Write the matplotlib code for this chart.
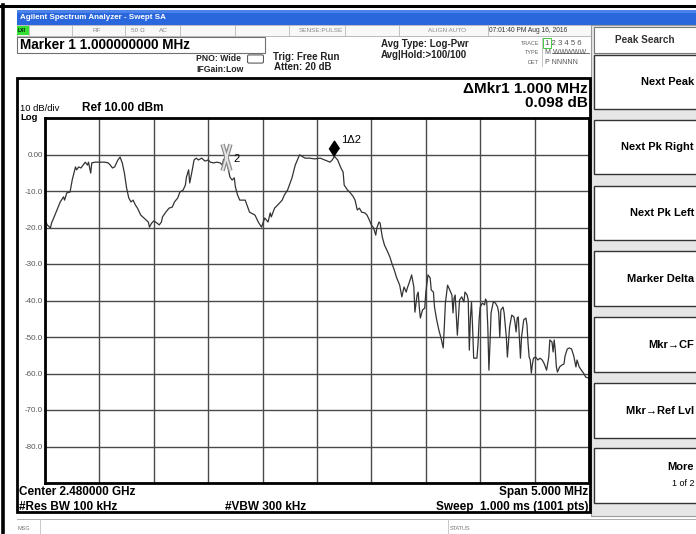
import numpy as np
import matplotlib.pyplot as plt
from matplotlib.patches import Rectangle, FancyBboxPatch
from matplotlib.lines import Line2D
from matplotlib.path import Path

plt.rcParams['font.family'] = ['Liberation Sans', 'DejaVu Sans']

# sweep settings
center_ghz = 2.48
span_mhz = 5.0
ref_dbm = 10.0
db_per_div = 10

# trace 1: offset from start frequency (MHz) and level (dBm)
freq_off = [0.00, 0.02, 0.05, 0.06, 0.08, 0.11, 0.14, 0.17, 0.18, 0.20, 0.23, 0.25, 0.28, 0.29, 0.31, 0.33,
            0.35, 0.37, 0.39, 0.40, 0.42, 0.43, 0.46, 0.51, 0.55, 0.58, 0.60, 0.62, 0.64, 0.67, 0.69, 0.71,
            0.73, 0.75, 0.77, 0.79, 0.81, 0.83, 0.85, 0.88, 0.91, 0.95, 0.96, 0.98, 1.00, 1.03, 1.05, 1.07,
            1.08, 1.11, 1.14, 1.17, 1.19, 1.22, 1.24, 1.27, 1.29, 1.30, 1.32, 1.33, 1.35, 1.37, 1.39, 1.41,
            1.44, 1.47, 1.50, 1.52, 1.55, 1.58, 1.61, 1.63, 1.64, 1.66, 1.68, 1.70, 1.72, 1.74, 1.75, 1.77,
            1.79, 1.84, 1.88, 1.93, 1.96, 1.99, 2.02, 2.05, 2.07, 2.08, 2.11, 2.14, 2.18, 2.20, 2.23, 2.27,
            2.30, 2.34, 2.39, 2.43, 2.48, 2.53, 2.57, 2.62, 2.64, 2.66, 2.69, 2.72, 2.74, 2.75, 2.78, 2.80,
            2.83, 2.85, 2.86, 2.87, 2.89, 2.91, 2.94, 2.96, 2.98, 3.00, 3.02, 3.04, 3.05, 3.07, 3.08, 3.10,
            3.12, 3.15, 3.17, 3.19, 3.21, 3.23, 3.26, 3.28, 3.30, 3.32, 3.33, 3.35, 3.37, 3.39, 3.40, 3.42,
            3.43, 3.44, 3.45, 3.47, 3.49, 3.50, 3.52, 3.54, 3.55, 3.57, 3.58, 3.60, 3.62, 3.64, 3.66, 3.67,
            3.68, 3.70, 3.72, 3.74, 3.75, 3.76, 3.77, 3.79, 3.81, 3.83, 3.85, 3.86, 3.88, 3.89, 3.90, 3.91,
            3.92, 3.93, 3.94, 3.97, 3.98, 3.99, 4.00, 4.02, 4.04, 4.05, 4.06, 4.07, 4.08, 4.09, 4.10, 4.12,
            4.14, 4.16, 4.17, 4.18, 4.19, 4.21, 4.22, 4.24, 4.25, 4.27, 4.29, 4.31, 4.32, 4.33, 4.34, 4.35,
            4.36, 4.37, 4.38, 4.40, 4.42, 4.43, 4.44, 4.45, 4.46, 4.47, 4.48, 4.49, 4.51, 4.53, 4.55, 4.57,
            4.59, 4.61, 4.63, 4.64, 4.66, 4.67, 4.68, 4.69, 4.70, 4.71, 4.73, 4.75, 4.77, 4.78, 4.80, 4.82,
            4.84, 4.86, 4.88, 4.89, 4.91, 4.93, 4.95, 4.97, 5.00]
level = [-17.9, -19.3, -20.1, -18.8, -17.4, -15.2, -13.0, -11.6, -12.5, -10.5, -10.3, -7.0, -3.4, -4.2, -3.4, -3.7,
         -2.9, -2.1, -2.9, -2.1, -5.1, -2.3, -2.1, -2.1, -2.1, -2.3, -2.9, -3.7, -3.4, -1.5, -0.7, -2.3,
         -5.1, -9.2, -11.9, -13.0, -12.5, -13.8, -14.7, -16.6, -17.4, -18.5, -19.9, -18.8, -18.2, -18.8, -19.3, -18.5,
         -17.1, -15.8, -14.7, -14.4, -13.0, -11.9, -10.3, -9.7, -8.4, -6.2, -4.2, -7.8, -4.8, -1.5, -1.0, -1.5,
         -1.0, -1.8, -1.5, -2.1, -2.3, -2.1, -2.3, -2.9, -1.5, -0.6, -3.4, -6.2, -7.0, -6.4, -8.9, -11.1,
         -12.5, -12.5, -15.8, -16.6, -18.5, -19.9, -17.4, -18.5, -16.0, -17.1, -14.7, -13.8, -12.5, -11.1, -9.7, -6.4,
         -2.9, -0.1, -1.0, -1.0, -1.2, -1.0, -1.5, -2.1, -1.5, -0.5, -1.5, -3.7, -4.8, -8.4, -9.7, -10.3,
         -11.4, -12.5, -13.8, -15.2, -14.7, -15.8, -16.0, -16.6, -17.9, -19.3, -20.1, -22.1, -20.1, -18.5, -18.8, -22.6,
         -24.8, -26.7, -28.1, -30.0, -31.6, -33.6, -35.8, -39.0, -36.3, -37.7, -36.6, -34.9, -33.0, -36.3, -43.2, -38.5,
         -37.7, -41.8, -44.8, -42.6, -42.1, -37.9, -33.0, -33.8, -37.1, -37.7, -41.8, -45.3, -48.1, -50.3, -53.0, -47.3,
         -40.7, -35.8, -37.1, -38.5, -43.4, -39.3, -38.5, -49.5, -39.9, -39.0, -40.4, -37.7, -38.5, -39.9, -53.6, -44.8,
         -40.4, -47.3, -55.8, -55.8, -51.8, -45.3, -41.8, -40.7, -41.2, -39.6, -40.4, -47.3, -59.1, -51.8, -43.4, -40.4,
         -40.7, -41.8, -43.4, -50.0, -42.6, -41.8, -43.4, -50.0, -55.5, -47.3, -44.0, -44.5, -46.2, -48.6, -44.8, -44.5,
         -50.0, -55.8, -50.0, -45.3, -44.8, -46.7, -51.8, -55.5, -56.3, -59.9, -57.4, -55.8, -55.5, -56.3, -55.8, -56.3,
         -57.4, -59.1, -55.5, -50.8, -51.4, -54.1, -50.8, -53.6, -58.2, -59.6, -58.2, -57.7, -57.4, -55.2, -53.3, -53.0,
         -53.3, -55.2, -58.2, -56.3, -58.2, -59.1, -59.9, -61.0, -61.3]

# markers (offset from start, MHz)
mkr2_off = 1.66
mkr1_off = 2.66

y_tick_vals = [0, -10, -20, -30, -40, -50, -60, -70, -80]
softkeys = ['Next Peak', 'Next Pk Right', 'Next Pk Left', 'Marker Delta', 'Mkr\u2192CF', 'Mkr\u2192Ref Lvl']
key_rows = [(55, 109), (120, 174), (186, 240), (251, 306), (317, 372), (383, 438), (448, 503)]

W, H = 696, 534
fig = plt.figure(figsize=(W / 100, H / 100), dpi=100)
fig.patch.set_facecolor('white')


def fx(x):
    return x / W


def fy(y):
    return 1 - y / H


def rect(x0, y0, x1, y1, fc='none', ec='black', lw=1.0, z=1):
    fig.add_artist(Rectangle((fx(x0), fy(y1)), (x1 - x0) / W, (y1 - y0) / H,
                             transform=fig.transFigure, fc=fc, ec=ec, lw=lw, zorder=z))


def hline(x0, x1, y, color='black', lw=1.0, z=1.5):
    fig.add_artist(Line2D([fx(x0), fx(x1)], [fy(y), fy(y)], transform=fig.transFigure,
                          color=color, lw=lw, zorder=z))


def vline(x, y0, y1, color='black', lw=1.0, z=1.5):
    fig.add_artist(Line2D([fx(x), fx(x)], [fy(y0), fy(y1)], transform=fig.transFigure,
                          color=color, lw=lw, zorder=z))


def txt(x, y, s, size=7, bold=False, color='black', ha='left'):
    fig.text(fx(x), fy(y), s, fontsize=size, fontweight='bold' if bold else 'normal',
             color=color, ha=ha, va='center', zorder=4)


# outer frame
hline(0, W, 5.5, lw=2.2)
vline(3, 5, H, lw=2.6)

# title bar
rect(17, 10, W, 25, fc='#2a66dc', ec='none')
rect(17, 10, W, 13, fc='#4a82ea', ec='none')
txt(20, 17.5, 'Agilent Spectrum Analyzer - Swept SA', 5.8, True, 'white')

# status row
rect(17, 25, 591, 36, fc='#f8f8f8', ec='#b0b0b0', lw=0.6)
for xd in [29, 72, 125, 180, 235, 289, 345, 399, 488]:
    vline(xd, 25, 36, color='#b8b8b8', lw=0.6)
rect(17, 26, 29, 35, fc='#33e033', ec='none', z=1.6)
txt(18, 30.5, 'LXI', 3.6, True)
txt(97, 30.5, 'RF', 4.6, color='#8a8a8a', ha='center')
txt(131, 30.5, '50 \u03a9', 4.6, color='#8a8a8a')
txt(163, 30.5, 'AC', 4.6, color='#8a8a8a', ha='center')
txt(343, 30.5, 'SENSE:PULSE', 4.6, color='#8a8a8a', ha='right')
txt(447, 30.5, 'ALIGN AUTO', 4.6, color='#8a8a8a', ha='center')
txt(489, 30.5, '07:01:40 PM Aug 16, 2016', 4.8, color='#333333')

# header
rect(17, 37, 265, 53, ec='#707070', lw=0.8)
txt(20, 45, 'Marker 1 1.000000000 MHz', 9.8, True)
txt(196, 58.5, 'PNO: Wide', 6.2, True, '#222222')
txt(196, 69.5, 'IFGain:Low', 6.2, True, '#222222')
fig.add_artist(FancyBboxPatch((fx(249), fy(62)), 13 / W, 6 / H, boxstyle='round,pad=0.002',
                              transform=fig.transFigure, fc='none', ec='#444444', lw=0.7))
txt(273, 56.5, 'Trig: Free Run', 7, True, '#222222')
txt(274, 67.5, 'Atten: 20 dB', 7, True, '#222222')
txt(381, 44, 'Avg Type: Log-Pwr', 7, True, '#222222')
txt(381, 55, 'Avg|Hold:>100/100', 7, True, '#222222')

vline(541.5, 38, 66, color='#bbbbbb', lw=0.6)
txt(539, 43.5, 'TRACE', 4.0, color='#666666', ha='right')
txt(539, 53, 'TYPE', 4.0, color='#666666', ha='right')
txt(539, 62.5, 'DET', 4.0, color='#666666', ha='right')
txt(545, 43.5, '1 2 3 4 5 6', 5.6, color='#555555')
rect(543, 38.5, 550.5, 48.5, ec='#44cc44', lw=0.7)
txt(545, 53, 'M WWWWW', 5.0, color='#555555')
hline(552, 589, 53, color='#555555', lw=0.6)
txt(545, 62.5, 'P NNNNN', 5.0, color='#555555')

# main panel
rect(17, 78, 590, 512, ec='black', lw=2.0, z=1.2)
txt(588, 89, '\u0394Mkr1 1.000 MHz', 11, True, ha='right')
txt(588, 103, '0.098 dB', 11, True, ha='right')
txt(20, 109, '10 dB/div', 6.8)
txt(20, 117.5, 'Log', 6.8, True)
txt(82, 108, 'Ref %.2f dBm' % ref_dbm, 8.5, True)

txt(19, 492, 'Center %.6f GHz' % center_ghz, 8.5, True)
txt(588, 492, 'Span %.3f MHz' % span_mhz, 8.5, True, ha='right')
txt(19, 507, '#Res BW 100 kHz', 8.5, True)
txt(225, 507, '#VBW 300 kHz', 8.5, True)
txt(588, 507, 'Sweep  1.000 ms (1001 pts)', 8.5, True, ha='right')

# message line
hline(17, W, 519, color='#a0a0a0', lw=0.6)
vline(40, 519, H, color='#c0c0c0', lw=0.6)
vline(448, 519, H, color='#c0c0c0', lw=0.6)
txt(18, 528, 'MSG', 4.0, color='#777777')
txt(450, 528, 'STATUS', 4.0, color='#777777')

# softkey column
rect(591, 25, W + 2, 516, fc='#e6e6e6', ec='#9a9a9a', lw=0.8)
rect(594, 27, W + 2, 53, fc='white', ec='#777777', lw=0.8)
txt(645, 40, 'Peak Search', 7.2, True, '#333333', ha='center')
for (y0, y1), name in zip(key_rows, softkeys + ['More']):
    rect(594, y0, W + 2, y1, fc='white', ec='#333333', lw=1.0)
    if name == 'More':
        txt(694, y0 + 19, name, 8, True, ha='right')
        txt(694, y0 + 36, '1 of 2', 6.5, ha='right')
    else:
        txt(694, (y0 + y1) / 2, name, 8, True, ha='right')

# graticule and trace
start_mhz = center_ghz * 1000 - span_mhz / 2
freqs = start_mhz + np.array(freq_off)
ax = fig.add_axes([fx(45), fy(483), 544 / W, 365 / H])
ax.set_zorder(2)
ax.set_facecolor('white')
ax.set_xlim(start_mhz, start_mhz + span_mhz)
ax.set_ylim(ref_dbm - 10 * db_per_div, ref_dbm)
ax.set_xticks(start_mhz + np.arange(0, 11) * span_mhz / 10)
yt = np.arange(ref_dbm - 10 * db_per_div, ref_dbm + 1, db_per_div)
ax.set_yticks(yt)
ax.set_yticklabels(['0.00' if v == 0 else ('%.1f' % v if v in y_tick_vals else '') for v in yt])
ax.set_xticklabels([])
ax.tick_params(length=0, pad=1.5, labelsize=5.8, labelcolor='#555555')
ax.grid(True, color='#4a4a4a', lw=1.0)
ax.set_axisbelow(True)
for s in ax.spines.values():
    s.set_linewidth(2.0)

ax.plot(freqs, level, color='#333333', lw=0.9)

f1 = start_mhz + mkr1_off
f2 = start_mhz + mkr2_off
l1 = np.interp(f1, freqs, level)
l2 = np.interp(f2, freqs, level)

diamond = [(0, 0), (-0.33, 0.5), (0, 1), (0.33, 0.5)]
ax.plot([f1], [l1], marker=diamond, ms=22, color='black', mec='black', zorder=5)
ax.annotate('1\u03942', (f1, l1), xytext=(4.5, 12), textcoords='offset points',
            fontsize=8, ha='left', va='center')

xpath = Path([(-0.3, -1), (0.3, 1), (-0.3, 1), (0.3, -1)],
             [Path.MOVETO, Path.LINETO, Path.MOVETO, Path.LINETO])
ax.plot([f2], [l2], marker=xpath, ms=19, mew=3.2, mec='#8c8c8c', zorder=5)
ax.plot([f2], [l2], marker=xpath, ms=19, mew=1.4, mec='#e4e4e4', zorder=6)
ax.annotate('2', (f2, l2), xytext=(5.5, -1.5), textcoords='offset points',
            fontsize=8, ha='left', va='center')

fig.savefig('out.png', dpi=100)
